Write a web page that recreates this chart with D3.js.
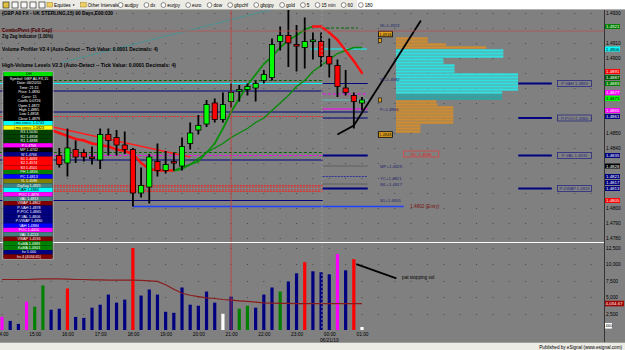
<!DOCTYPE html>
<html>
<head>
<meta charset="utf-8">
<script src="https://cdn.jsdelivr.net/npm/d3@7"></script>
<style>
  body { margin: 0; background: #fff; overflow: hidden; }
  svg { display: block; }
  text { font-family: "Liberation Sans", Arial, sans-serif; }
</style>
</head>
<body>
<script>
// ---- data (15 min bars, index 0 = 14:00) ----
var firstCandle = 7;
var opens  = [1.4835,1.4830,1.4839,1.4837,1.4834,1.4832,1.4849,1.4847,1.4842,1.4839,1.4810,1.4814,1.4831,1.4825,1.4831,1.4828,1.4843,1.4852,1.4856,1.4870,1.4859,1.4871,1.4878,1.4879,1.4880,1.4885,1.4887,1.4911,1.4915,1.4909,1.4907,1.4911,1.4911,1.4901,1.4895,1.4880,1.4875,1.4870];
var highs  = [1.4840,1.4853,1.4845,1.4839,1.4841,1.4853,1.4853,1.4852,1.4851,1.4840,1.4827,1.4836,1.4843,1.4838,1.4837,1.4847,1.4857,1.4862,1.4872,1.4873,1.4877,1.4883,1.4882,1.4883,1.4885,1.4892,1.4913,1.4921,1.4932,1.4922,1.4927,1.4917,1.4917,1.4913,1.4899,1.4892,1.4877,1.4874];
var lows   = [1.4827,1.4821,1.4830,1.4831,1.4829,1.4826,1.4835,1.4835,1.4836,1.4801,1.4807,1.4803,1.4821,1.4823,1.4825,1.4825,1.4839,1.4849,1.4854,1.4857,1.4857,1.4867,1.4871,1.4875,1.4871,1.4883,1.4885,1.4905,1.4894,1.4891,1.4893,1.4899,1.4894,1.4887,1.4874,1.4875,1.4853,1.4865];
var closes = [1.4829,1.4840,1.4834,1.4834,1.4833,1.4849,1.4845,1.4842,1.4839,1.4810,1.4815,1.4834,1.4825,1.4829,1.4830,1.4841,1.4850,1.4855,1.4869,1.4859,1.4869,1.4877,1.4879,1.4881,1.4883,1.4889,1.4909,1.4915,1.4910,1.4908,1.4911,1.4912,1.4901,1.4896,1.4881,1.4877,1.4871,1.4872];

var volumes = [2000,1390,930,4320,3550,6790,3090,3240,6330,2000,1850,3400,3860,5400,4170,4630,12500,5250,6170,5400,2780,2620,6480,3860,3700,5860,4170,2470,5090,3240,3700,3400,5400,6480,5860,7400,8640,10340,8950,8800,8490,11570,9100,10800,460];
var volumeKinds = ["m","n","n","m","g","g","n","n","r","n","n","n","n","n","n","n","r","n","n","n","n","n","n","n","n","n","n","w","n","g","g","n","n","n","g","n","n","r","n","n","n","m","n","r","w"];
var volumeAvg = [7700,7700,7700,7700,7750,7800,7800,7800,7750,7700,7700,7650,7650,7600,7600,7600,7600,7550,7500,7400,6900,6200,5600,5300,5100,4900,4800,4650,4550,4450,4350,4250,4150,4100,4050,4050,4030,4030,4030,4030,4030,4035,4035,4035,4035];

var fastStart = 6;
var fastMA = [1.4852,1.4850,1.4848,1.4846,1.4845,1.4843,1.4842,1.4841,1.4839,1.4838,1.4836,1.4830,1.4826,1.4825,1.4825,1.4825,1.4826,1.4829,1.4831,1.4837,1.4843,1.4853,1.4864,1.4873,1.4882,1.4889,1.4896,1.4901,1.4907,1.4912,1.4915,1.4919,1.4921,1.4921,1.4917,1.4912,1.4905,1.4898,1.4890];
var slowStart = 21;
var slowMA = [1.4825,1.4827,1.4829,1.4833,1.4837,1.4840,1.4843,1.4847,1.4850,1.4853,1.4857,1.4860,1.4865,1.4870,1.4875,1.4881,1.4885,1.4891,1.4895,1.4899,1.4903,1.4905,1.4907,1.4907];
var zigzag = [[6.2, 1.4854], [23, 1.4834]];
var trendLine = [[7.3, 1.4897], [33.4, 1.4933]];
var noteLine = [[41, 1.4849], [43, 1.4855], [51.2, 1.4925]];
var noteVolLine = [[43.3, 10030], [48.2, 7870]];

// horizontal levels: price, from bar, to bar, kind
var levels = [
  [1.4920, 39, 43.5, "greenDash"], [1.4906, 37.7, 44.6, "cyan"],
  [1.4885, -1, 39.2, "greenDash"], [1.4883, -1, 39.2, "cyan"],
  [1.4883, 39.2, 44.7, "navy"], [1.4878, -1, 39.2, "navy"],
  [1.4876, 39.2, 44.7, "magentaDash"], [1.4872, 39.2, 44.7, "teal"],
  [1.4866, 39.2, 44.7, "magenta"], [1.4864, -1, 44.7, "navy"],
  [1.4861, -1, 39.2, "redDot"], [1.4860, 39.2, 44.7, "navy"],
  [1.4837, -1, 39.2, "greenDash"], [1.4835, -1, 39.2, "magentaDash"],
  [1.4832, -1, 39.2, "navy"], [1.4835, 39.2, 44.7, "navyThick"],
  [1.4828, 39.2, 44.7, "gray"], [1.4821, 39.2, 44.7, "navyDot"],
  [1.4816, 39.2, 44.7, "gray"], [1.4815, -1, 39.2, "redDot"],
  [1.4814, -1, 39.2, "redDot"], [1.4812, -1, 39.2, "redDot"],
  [1.4811, -1, 39.2, "redDot"], [1.4813, 39.2, 44.7, "navyThick"],
  [1.4805, -1, 39.2, "navy"], [1.4801, 16, 49.1, "blue"],
  [1.4883, 63.1, 67.2, "navyThick"], [1.4860, 63.1, 67.2, "navyThick"],
  [1.4835, 63.1, 67.2, "navyThick"], [1.4813, 63.1, 67.2, "navyThick"]
];
var levelNotes = [["W+1.4922", 1.4922], ["W+1.4882", 1.4886], ["P+1.4866", 1.4866], ["MP+1.4829", 1.4828], ["YC+1.4821", 1.4820], ["WL+1.4817", 1.4816], ["S1+1.4805", 1.4805]];
var boxNotes = [["P-VAH  1.4883", 1.4883], ["P-POC  1.4860", 1.4860], ["P-VAL  1.4835", 1.4835], ["P-VWAP 1.4813", 1.4813]];

// volume profile
var profilePrices = [1.4913,1.4911,1.4909,1.4907,1.4905,1.4903,1.4901,1.4899,1.4897,1.4895,1.4893,1.4891,1.4889,1.4887,1.4885,1.4883,1.4881,1.4879,1.4877,1.4875,1.4873,1.4871,1.4869,1.4867,1.4865,1.4863,1.4861,1.4859,1.4857,1.4855,1.4853,1.4851];
var profileVols   = [26,26,41,74,88,88,88,39,39,48,48,48,100,100,100,100,100,100,87,87,87,33,34,47,47,47,47,47,47,20,20,20];
var profileZones  = ["o","o","o","o","v","v","v","v","v","v","v","v","v","v","v","v","v","v","v","d","d","o","o","o","o","o","o","o","o","o","o","o"];

// axes
var priceTicks = [1.4930, 1.4910, 1.4900, 1.4850, 1.4840, 1.4800, 1.4790, 1.4780];
var priceTags = [[1.4921,"dg"],[1.4906,"cy"],[1.4891,"rd"],[1.4887,"dg2"],[1.4883,"dg"],[1.4877,"mg"],[1.4873,"lm"],[1.4865,"mg"],[1.4861,"nv"],[1.4835,"nv"],[1.4828,"bk"],[1.4821,"nv"],[1.4817,"nv"],[1.4813,"nv"],[1.4805,"rd"]];
var volumeTicks = [2500, 5000, 7500, 10000, 12500];
var hourBars = [0,4,8,12,16,20,24,28,32,36,40,44];
var hourLabels = ["14:00","15:00","16:00","17:00","18:00","19:00","20:00","21:00","22:00","23:00","00:00","01:00"];

var toolbarItems = ["audjpy","dx","eurjpy","euro","dow","gbpchf","gbpjpy","gold","5","15 min","60","180"];

var panelLabels = ["DH","Symbol: GBP A0-FX,15","Date: 06/20/10","Time: 21:15","Price: 1.4830","Cursr: 15","Coeffs 0.0726","Open 1.4872","High 1.4885","Low 1.4858","Close 1.4879",
  "j ma cross: 1.4743","j ma cross: 1.4823","R3 1.5030","R2 1.4958","R1 1.4888","P 1.4766","MP 1.4742","W 1.4766","S1 1.4693","S2 1.4574","S3 1.4501",
  "PH 1.4836","PC 1.4813","YL 1.4586","ZigZag 1.4921","VAH 1.4884","POC 1.4876","VAL 1.4813","VWAP 1.4862","P-VAH 1.4878","P-POC 1.4865","P-VAL 1.4806","P-VWAP 1.4830",
  "VAH 1.4884","POC 1.4410","VAL 1.4213","VWAP 1.4536","KaMA 1.4883","KaMA 1.4843","hv 5.000","hv 4 (4034.65)"];
var panelFills = ["#00e000","#000","#000","#000","#000","#000","#000","#000","#000","#000","#000",
  "#00ffff","#ffff00","#004000","#004000","#004000","#ff00ff","#000","#000080","#ff0000","#ff0000","#ff0000",
  "#008000","#0000ff","#808000","#408080","#00ffff","#ff00ff","#408080","#800000","#000080","#000080","#000080","#000080",
  "#0000ff","#ff00ff","#408080","#800000","#008000","#008000","#000080","#800000"];

// ---- drawing ----
var W = 625, H = 350;
var chartTop = 10, priceBottom = 242, volTop = 243, volBottom = 331, axisX = 604;

var x = d3.scaleLinear().domain([0, 44]).range([2, 362]);
var y = d3.scaleLinear().domain([1.4780, 1.4930]).range([238, 13]);
var vy = d3.scaleLinear().domain([0, 12500]).range([330, 248]);
var px = d3.scaleLinear().domain([0, 100]).range([396, 518]);

var svg = d3.select("body").append("svg").attr("width", W).attr("height", H);

svg.append("rect").attr("width", W).attr("height", H).attr("fill", "#808080");

var defs = svg.append("defs");
defs.append("clipPath").attr("id", "priceClip").append("rect")
    .attr("x", 0).attr("y", chartTop).attr("width", axisX).attr("height", priceBottom - chartTop);
defs.append("clipPath").attr("id", "volClip").append("rect")
    .attr("x", 0).attr("y", volTop).attr("width", axisX).attr("height", volBottom - volTop);

// grid dots
var grid = svg.append("g").attr("stroke", "#4a4a4a").attr("stroke-width", 1).attr("stroke-dasharray", "1," + (x(2) - x(0) - 1));
grid.selectAll("line.pg")
    .data(d3.range(1.4780, 1.49301, 0.001))
    .enter().append("line")
    .attr("x1", x(0) - 0.5).attr("x2", axisX)
    .attr("y1", function(d) { return Math.round(y(d)) + 0.5; })
    .attr("y2", function(d) { return Math.round(y(d)) + 0.5; });
grid.selectAll("line.vg")
    .data(volumeTicks)
    .enter().append("line")
    .attr("x1", x(0) - 0.5).attr("x2", axisX)
    .attr("y1", function(d) { return Math.round(vy(d)) + 0.5; })
    .attr("y2", function(d) { return Math.round(vy(d)) + 0.5; });

// ---- price panel ----
var pg = svg.append("g").attr("clip-path", "url(#priceClip)");

var trendFn = d3.line().x(function(d) { return x(d[0]); }).y(function(d) { return y(d[1]); });
pg.append("path").attr("d", trendFn(trendLine))
    .attr("fill", "none").attr("stroke", "#2f9c9c").attr("stroke-width", 1).attr("stroke-dasharray", "2,1");

var levelStyle = {
  cyan: ["#00ffff", 1, null], greenDash: ["#006400", 1, "3,2"], navy: ["#000080", 1.2, null],
  magentaDash: ["#ff00ff", 1, "3,2"], magenta: ["#ff00ff", 1.2, null], teal: ["#60c0c0", 1, null],
  redDot: ["#e03030", 1, "2,1"], gray: ["#606060", 1.2, null], navyDot: ["#3030a0", 1, "2,1"],
  navyThick: ["#000080", 2, null], blue: ["#2040ff", 1.5, null]
};
pg.selectAll("line.level")
    .data(levels)
    .enter().append("line")
    .attr("x1", function(d) { return x(d[1]); })
    .attr("x2", function(d) { return x(d[2]); })
    .attr("y1", function(d) { return y(d[0]); })
    .attr("y2", function(d) { return y(d[0]); })
    .attr("stroke", function(d) { return levelStyle[d[3]][0]; })
    .attr("stroke-width", function(d) { return levelStyle[d[3]][1]; })
    .attr("stroke-dasharray", function(d) { return levelStyle[d[3]][2]; });

// volume profile
pg.selectAll("rect.prof")
    .data(profilePrices)
    .enter().append("rect")
    .attr("x", px(0))
    .attr("y", function(d) { return y(d) - 1.2; })
    .attr("width", function(d, k) { return px(profileVols[k]) - px(0); })
    .attr("height", 2.4)
    .attr("fill", function(d, k) { return profileZones[k] == "o" ? "#d08c30" : profileZones[k] == "v" ? "#30e0e0" : "#2aa6a6"; });

// zig zag and moving averages
pg.append("path").attr("d", trendFn(zigzag))
    .attr("fill", "none").attr("stroke", "#ff2020").attr("stroke-width", 1.5);

var slowPts = slowMA.map(function(v, k) { return [slowStart + k, v]; });
pg.append("path").attr("d", trendFn(slowPts))
    .attr("fill", "none").attr("stroke", "#078a07").attr("stroke-width", 1.4);

var fastSegs = d3.range(fastMA.length - 1).map(function(k) {
  return [[fastStart + k, fastMA[k]], [fastStart + k + 1, fastMA[k + 1]]];
});
pg.selectAll("path.fast")
    .data(fastSegs)
    .enter().append("path")
    .attr("d", trendFn)
    .attr("fill", "none")
    .attr("stroke-linecap", "round")
    .attr("stroke", function(d) { return d[1][1] > d[0][1] ? "#089008" : "#ff1010"; })
    .attr("stroke-width", function(d) { return d[1][1] > d[0][1] ? 1.8 : 2.4; });

// candles
var candles = opens.map(function(o, k) {
  return { i: firstCandle + k, o: o, h: highs[k], l: lows[k], c: closes[k] };
});
pg.selectAll("line.wick")
    .data(candles)
    .enter().append("line")
    .attr("x1", function(d) { return x(d.i); })
    .attr("x2", function(d) { return x(d.i); })
    .attr("y1", function(d) { return y(d.h); })
    .attr("y2", function(d) { return y(d.l); })
    .attr("stroke", "#000").attr("stroke-width", 1.8);
pg.selectAll("rect.body")
    .data(candles)
    .enter().append("rect")
    .attr("x", function(d) { return x(d.i) - 2.6; })
    .attr("width", 5.2)
    .attr("y", function(d) { return y(Math.max(d.o, d.c)); })
    .attr("height", function(d) { return Math.max(1.6, Math.abs(y(d.o) - y(d.c))); })
    .attr("fill", function(d) { return d.c >= d.o ? "#00ff00" : "#ff0000"; })
    .attr("stroke", "#000").attr("stroke-width", 0.8);

// hand drawn note
pg.append("path").attr("d", trendFn(noteLine))
    .attr("fill", "none").attr("stroke", "#000").attr("stroke-width", 1.8);

// level notes
svg.append("g").selectAll("text")
    .data(levelNotes)
    .enter().append("text")
    .attr("x", x(46.2)).attr("y", function(d) { return y(d[1]) + 1.6; })
    .attr("font-size", 4.3).attr("fill", "#24246e")
    .text(function(d) { return d[0]; });

svg.append("text").attr("x", x(49.9)).attr("y", y(1.4801) + 1.6)
    .attr("font-size", 4.6).attr("fill", "#7a1010").text("1.4802 (Entry)");

var r1 = svg.append("g");
r1.append("rect").attr("x", x(49.1)).attr("y", y(1.4836) - 3).attr("width", 35).attr("height", 6)
    .attr("fill", "none").attr("stroke", "#e04040").attr("stroke-width", 0.8);
r1.append("text").attr("x", x(49.1) + 17.5).attr("y", y(1.4836) + 1.6).attr("text-anchor", "middle")
    .attr("font-size", 4.3).attr("fill", "#e02020").text("R1:  1.4836");

var boxes = svg.append("g");
boxes.selectAll("rect")
    .data(boxNotes)
    .enter().append("rect")
    .attr("x", x(67.9)).attr("y", function(d) { return y(d[1]) - 3; })
    .attr("width", 34).attr("height", 6)
    .attr("fill", "none").attr("stroke", "#2a2a80").attr("stroke-width", 0.8);
boxes.selectAll("text")
    .data(boxNotes)
    .enter().append("text")
    .attr("x", x(67.9) + 17).attr("y", function(d) { return y(d[1]) + 1.6; })
    .attr("text-anchor", "middle").attr("font-size", 4.2).attr("fill", "#2a2a80")
    .text(function(d) { return d[0]; });

// orange profile tags
var otags = [[1.4916, "1.4916"], [1.4849, "1.4848"]];
var og = svg.append("g");
og.selectAll("rect")
    .data(otags)
    .enter().append("rect")
    .attr("x", x(46)).attr("y", function(d) { return y(d[0]) - 2.8; })
    .attr("width", 14).attr("height", 5.6)
    .attr("fill", "#e0a020").attr("stroke", "#000").attr("stroke-width", 0.8);
og.selectAll("text")
    .data(otags)
    .enter().append("text")
    .attr("x", x(46) + 7).attr("y", function(d) { return y(d[0]) + 1.6; })
    .attr("text-anchor", "middle").attr("font-size", 4).attr("fill", "#000")
    .text(function(d) { return d[1]; });
og.append("rect").attr("x", x(46)).attr("y", y(1.4912) - 1.5).attr("width", 3).attr("height", 4)
    .attr("fill", "#e0a020").attr("stroke", "#000").attr("stroke-width", 0.6);
og.append("rect").attr("x", x(46)).attr("y", y(1.4872) - 2).attr("width", 3).attr("height", 4)
    .attr("fill", "#e0a020").attr("stroke", "#000").attr("stroke-width", 0.6);

// ---- volume panel ----
var vg = svg.append("g").attr("clip-path", "url(#volClip)");
var volColor = { n: "#000080", r: "#ff0000", g: "#008000", m: "#ff00ff", w: "#ffffff" };
vg.selectAll("rect.vol")
    .data(volumes)
    .enter().append("rect")
    .attr("x", function(d, i) { return x(i) - 1.6; })
    .attr("y", function(d) { return vy(d); })
    .attr("width", 3.2)
    .attr("height", function(d) { return vy(0) - vy(d); })
    .attr("fill", function(d, i) { return volColor[volumeKinds[i]]; });

var vline = d3.line().x(function(d, i) { return x(i); }).y(function(d) { return vy(d); });
vg.append("path").attr("d", vline(volumeAvg))
    .attr("fill", "none").attr("stroke", "#8a1c1c").attr("stroke-width", 1.2);

var vnote = d3.line().x(function(d) { return x(d[0]); }).y(function(d) { return vy(d[1]); });
vg.append("path").attr("d", vnote(noteVolLine))
    .attr("fill", "none").attr("stroke", "#000").attr("stroke-width", 1.8);
svg.append("text").attr("x", x(48.9)).attr("y", vy(7950) + 1.5)
    .attr("font-size", 4.6).attr("fill", "#000").text("pat stopping vol");

// crosshair and session separator
svg.append("line").attr("x1", x(28)).attr("x2", x(28)).attr("y1", chartTop).attr("y2", volBottom)
    .attr("stroke", "#c83c3c").attr("stroke-width", 0.8);
svg.append("line").attr("x1", 0).attr("x2", axisX).attr("y1", y(1.4918)).attr("y2", y(1.4918))
    .attr("stroke", "#b85050").attr("stroke-width", 0.8);
svg.append("line").attr("x1", x(39.1)).attr("x2", x(39.1)).attr("y1", chartTop).attr("y2", volBottom)
    .attr("stroke", "#9a9a9a").attr("stroke-width", 0.8).attr("stroke-dasharray", "2,2");

// panel separator and right axis line
svg.append("line").attr("x1", 0).attr("x2", axisX).attr("y1", 242.5).attr("y2", 242.5)
    .attr("stroke", "#ffffff").attr("stroke-width", 1.2);
svg.append("line").attr("x1", axisX + 0.5).attr("x2", axisX + 0.5).attr("y1", chartTop).attr("y2", 342)
    .attr("stroke", "#333").attr("stroke-width", 1);

// price axis
var yAxis = svg.append("g").attr("transform", "translate(" + (axisX + 2) + ",0)")
    .call(d3.axisRight(y).tickValues(priceTicks).tickFormat(d3.format(".4f")).tickSize(0).tickPadding(0));
yAxis.select(".domain").remove();
yAxis.selectAll("text").attr("font-size", 4.8).attr("fill", "#000").attr("font-family", "Liberation Sans, Arial, sans-serif");

var tagFill = { dg: "#008000", dg2: "#005a00", cy: "#00ffff", rd: "#ff0000", mg: "#ff00ff", lm: "#00ff00", nv: "#000080", bk: "#000000" };
var tagInk = { cy: "#000", lm: "#000" };
var tags = svg.append("g");
tags.selectAll("rect")
    .data(priceTags)
    .enter().append("rect")
    .attr("x", axisX + 1).attr("y", function(d) { return y(d[0]) - 2.5; })
    .attr("width", 15).attr("height", 5)
    .attr("fill", function(d) { return tagFill[d[1]]; });
tags.selectAll("text")
    .data(priceTags)
    .enter().append("text")
    .attr("x", axisX + 2).attr("y", function(d) { return y(d[0]) + 1.6; })
    .attr("font-size", 4.4)
    .attr("fill", function(d) { return tagInk[d[1]] || "#fff"; })
    .text(function(d) { return d3.format(".4f")(d[0]); });

// volume axis
var vAxis = svg.append("g").attr("transform", "translate(" + (axisX + 2) + ",0)")
    .call(d3.axisRight(vy).tickValues(volumeTicks).tickFormat(d3.format(",")).tickSize(0).tickPadding(0));
vAxis.select(".domain").remove();
vAxis.selectAll("text").attr("font-size", 4.8).attr("fill", "#000").attr("font-family", "Liberation Sans, Arial, sans-serif");

var lastAvg = 4034.67;
svg.append("rect").attr("x", axisX + 1).attr("y", vy(lastAvg) - 2.8).attr("width", 19).attr("height", 5.6).attr("fill", "#a00000");
svg.append("text").attr("x", axisX + 1.5).attr("y", vy(lastAvg) + 1.7).attr("font-size", 4.4).attr("fill", "#fff")
    .text(d3.format(",.2f")(lastAvg));
var lastVol = volumes[volumes.length - 1];
svg.append("rect").attr("x", axisX + 1).attr("y", vy(lastVol) - 4).attr("width", 7).attr("height", 5.6).attr("fill", "#fff");
svg.append("text").attr("x", axisX + 1.5).attr("y", vy(lastVol) + 0.5).attr("font-size", 4).attr("fill", "#000").text(lastVol);

// time axis
var xAxis = svg.append("g").attr("transform", "translate(0," + (volBottom + 0.5) + ")")
    .call(d3.axisBottom(x).tickValues(hourBars).tickFormat(function(d, k) { return hourLabels[k]; }).tickSize(0).tickPadding(1.5));
xAxis.select(".domain").remove();
xAxis.selectAll("text").attr("font-size", 4.8).attr("fill", "#000").attr("font-family", "Liberation Sans, Arial, sans-serif");
svg.append("text").attr("x", x(40)).attr("y", 342).attr("text-anchor", "middle")
    .attr("font-size", 4.8).attr("fill", "#000").text("06/21/10");

// study titles
var titles = [
  ["(GBP A0 FX - UK STERLING,15) 90 Days,E00:030", 14.5, 111, "#000"],
  ["ComboPivot (Full Gap)", 32, 50, "#3a0000"],
  ["Zig Zag Indicator (1.00%)", 37.5, 51, "#000"],
  ["Volume Profiler V2.4 (Auto-Detect -- Tick Value: 0.0001 Decimals: 4)", 50.5, 156, "#000"],
  ["High-Volume Levels V2.3 (Auto-Detect -- Tick Value: 0.0001 Decimals: 4)", 67, 174, "#000"]
];
svg.append("g").selectAll("text")
    .data(titles)
    .enter().append("text")
    .attr("x", 2).attr("y", function(d) { return d[1]; })
    .attr("font-size", 5.2).attr("font-weight", "bold")
    .attr("fill", function(d) { return d[3]; })
    .attr("textLength", function(d) { return d[2]; })
    .attr("lengthAdjust", "spacingAndGlyphs")
    .text(function(d) { return d[0]; });

// data window
var rowH = 4.45, panelTop = 72;
var panel = svg.append("g");
panel.append("rect").attr("x", 3).attr("y", panelTop).attr("width", 50).attr("height", rowH * panelLabels.length)
    .attr("fill", "#000").attr("stroke", "#c8c8c8").attr("stroke-width", 0.8);
panel.selectAll("rect.row")
    .data(panelLabels)
    .enter().append("rect")
    .attr("x", 3.5).attr("width", 49)
    .attr("y", function(d, k) { return panelTop + k * rowH; })
    .attr("height", rowH)
    .attr("fill", function(d, k) { return panelFills[k]; });
panel.selectAll("text")
    .data(panelLabels)
    .enter().append("text")
    .attr("x", 29).attr("text-anchor", "middle")
    .attr("y", function(d, k) { return panelTop + k * rowH + 3.4; })
    .attr("font-size", 3.7)
    .attr("fill", function(d, k) { return ["#00ffff", "#ffff00", "#00e000"].indexOf(panelFills[k]) >= 0 ? "#000" : "#fff"; })
    .text(function(d) { return d; });

// toolbar
svg.append("rect").attr("width", W).attr("height", chartTop).attr("fill", "#ffffff");
svg.append("rect").attr("width", 357).attr("height", chartTop).attr("fill", "#ecebe4");
svg.append("line").attr("x1", 0).attr("x2", W).attr("y1", chartTop - 0.5).attr("y2", chartTop - 0.5).attr("stroke", "#b0b0b0");
var tb = svg.append("g");
[3, 12, 21, 30, 39].forEach(function(ix, k) {
  tb.append("rect").attr("x", ix).attr("y", 2).attr("width", 6).attr("height", 6)
      .attr("fill", k == 0 ? "#e0c040" : "#f8f8f8").attr("stroke", "#303030").attr("stroke-width", 0.7);
});
var tx = 47;
["Equities", "Other Intervals"].forEach(function(name) {
  tb.append("rect").attr("x", tx).attr("y", 2.5).attr("width", 5.5).attr("height", 4.5).attr("fill", "#f0d060").attr("stroke", "#a08020").attr("stroke-width", 0.5);
  var t = tb.append("text").attr("x", tx + 7).attr("y", 6.8).attr("font-size", 4.7).attr("fill", "#000").text(name);
  var w = t.node().getComputedTextLength();
  tb.append("path").attr("d", "M" + (tx + 9 + w) + ",4.5l2,0l-1,1.5z").attr("fill", "#000");
  tx += w + 17;
});
tx = 118;
toolbarItems.forEach(function(name) {
  tb.append("circle").attr("cx", tx + 2.6).attr("cy", 5).attr("r", 2.4).attr("fill", "#fff").attr("stroke", "#404040").attr("stroke-width", 0.6);
  var t = tb.append("text").attr("x", tx + 6.5).attr("y", 6.8).attr("font-size", 4.7).attr("fill", "#000").text(name);
  tx += t.node().getComputedTextLength() + 12;
});

// footer
svg.append("rect").attr("y", 342).attr("width", W).attr("height", 8).attr("fill", "#ecebe4");
svg.append("line").attr("x1", 0).attr("x2", W).attr("y1", 342.5).attr("y2", 342.5).attr("stroke", "#a0a0a0");
svg.append("text").attr("x", 622).attr("y", 348.5).attr("text-anchor", "end")
    .attr("font-size", 4.6).attr("fill", "#000").text("Published by eSignal (www.esignal.com)");
</script>
</body>
</html>
